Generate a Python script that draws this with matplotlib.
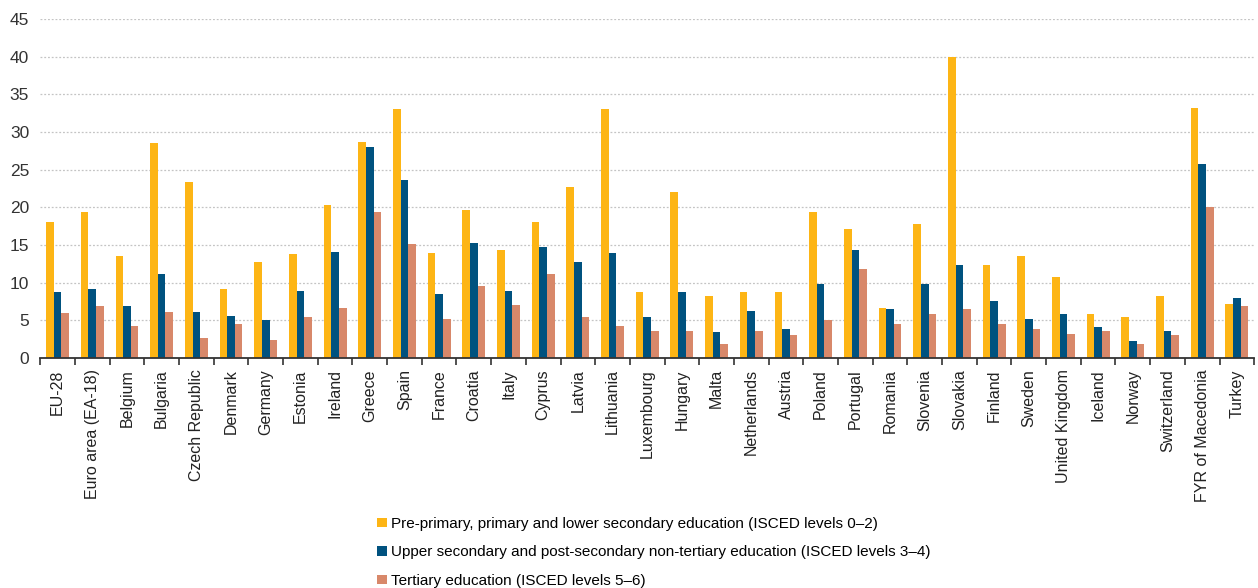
import numpy as np
import matplotlib.pyplot as plt
from matplotlib.ticker import MultipleLocator

plt.rcParams['font.family'] = ['Liberation Sans', 'DejaVu Sans']

# Countries and values per education level (%)
countries = ['EU-28', 'Euro area (EA-18)', 'Belgium', 'Bulgaria', 'Czech Republic',
             'Denmark', 'Germany', 'Estonia', 'Ireland', 'Greece', 'Spain', 'France',
             'Croatia', 'Italy', 'Cyprus', 'Latvia', 'Lithuania', 'Luxembourg',
             'Hungary', 'Malta', 'Netherlands', 'Austria', 'Poland', 'Portugal',
             'Romania', 'Slovenia', 'Slovakia', 'Finland', 'Sweden', 'United Kingdom',
             'Iceland', 'Norway', 'Switzerland', 'FYR of Macedonia', 'Turkey']

lower = [18.0, 19.4, 13.6, 28.5, 23.4, 9.2, 12.7, 13.8, 20.3, 28.7, 33.0, 14.0,
         19.6, 14.4, 18.0, 22.7, 33.0, 8.7, 22.0, 8.2, 8.7, 8.7, 19.4, 17.1,
         6.7, 17.8, 40.0, 12.3, 13.6, 10.7, 5.8, 5.4, 8.2, 33.2, 7.2]
upper = [8.7, 9.2, 6.9, 11.2, 6.1, 5.6, 5.0, 8.9, 14.1, 28.0, 23.6, 8.5,
         15.3, 8.9, 14.8, 12.7, 14.0, 5.4, 8.7, 3.4, 6.3, 3.8, 9.8, 14.4,
         6.5, 9.8, 12.3, 7.6, 5.2, 5.8, 4.1, 2.3, 3.6, 25.8, 8.0]
tertiary = [6.0, 6.9, 4.3, 6.1, 2.7, 4.5, 2.4, 5.4, 6.7, 19.4, 15.1, 5.2,
            9.5, 7.1, 11.1, 5.4, 4.3, 3.6, 3.6, 1.9, 3.6, 3.1, 5.0, 11.8,
            4.5, 5.8, 6.5, 4.5, 3.9, 3.2, 3.6, 1.9, 3.0, 20.1, 6.9]

labels = ['Pre-primary, primary and lower secondary education (ISCED levels 0\u20132)',
          'Upper secondary and post-secondary non-tertiary education (ISCED levels 3\u20134)',
          'Tertiary education (ISCED levels 5\u20136)']
colors = ['#FDB515', '#00527F', '#D8886A']

fig = plt.figure(figsize=(12.58, 5.88), dpi=100)
ax = fig.add_axes([0.032, 0.391, 0.965, 0.577])

x = np.arange(len(countries))
w = 0.22
for k, (vals, lab, col) in enumerate(zip([lower, upper, tertiary], labels, colors)):
    ax.bar(x + (k - 1) * w, vals, width=w, color=col, label=lab, zorder=3)

ax.set_xlim(-0.5, len(countries) - 0.5)
ax.set_ylim(0, 45)
ax.yaxis.set_major_locator(MultipleLocator(5))
ax.grid(axis='y', color='#C4C4C4', linestyle=(0, (1.5, 1.5)), linewidth=0.9, zorder=0)

# labels at group centres, tick marks between groups
ax.set_xticks(x)
ax.set_xticklabels(countries, rotation=90, fontsize=11.5, color='#222222')
ax.set_xticks(np.arange(-0.5, len(countries)), minor=True)
ax.tick_params(axis='x', which='major', length=0, pad=8)
ax.tick_params(axis='x', which='minor', length=5, width=1.2, color='#333333', direction='out')
ax.tick_params(axis='y', length=0, labelsize=12.5, labelcolor='#333333', pad=8)

for s in ['left', 'right', 'top']:
    ax.spines[s].set_visible(False)
ax.spines['bottom'].set_color('#333333')
ax.spines['bottom'].set_linewidth(1.3)
ax.spines['bottom'].set_zorder(4)

fig.legend(loc='upper left', bbox_to_anchor=(0.300, 0.121), ncol=1, frameon=False,
           fontsize=11, handlelength=0.6, handleheight=0.6, handletextpad=0.3,
           labelspacing=0.95, borderaxespad=0, borderpad=0)

fig.savefig('out.png', dpi=100)
